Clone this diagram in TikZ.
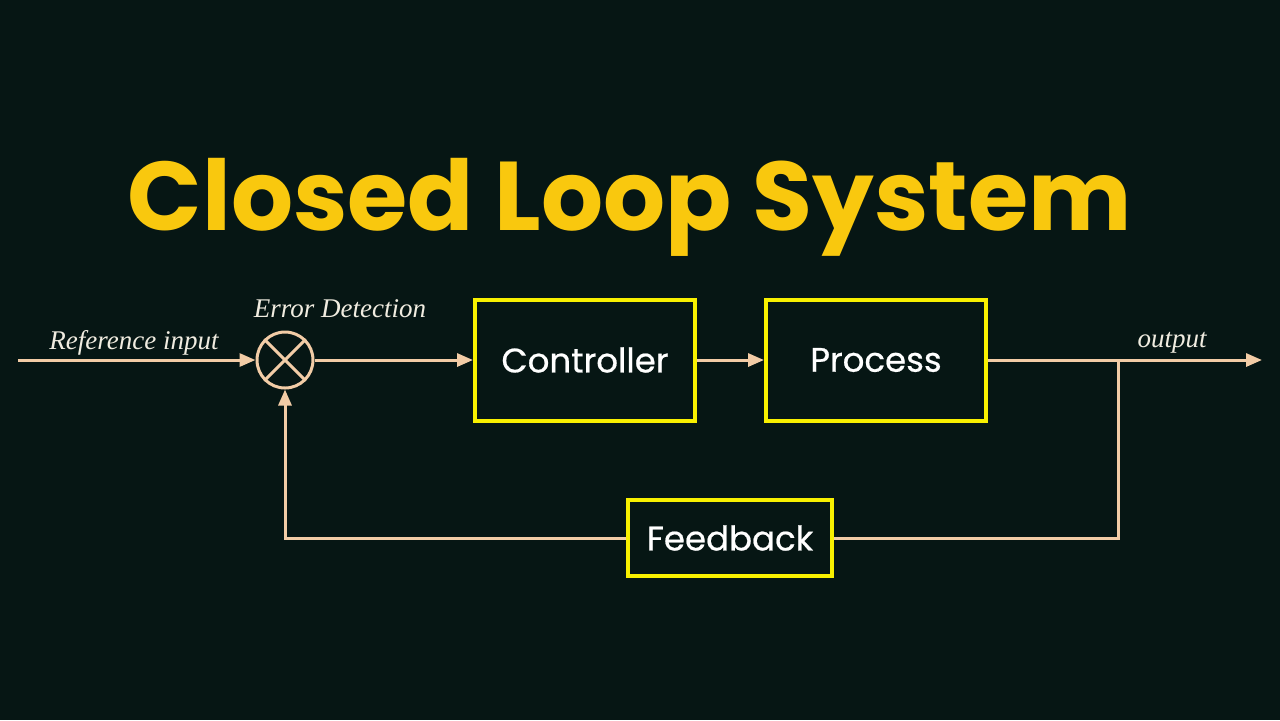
\documentclass[tikz,border=0pt]{standalone}
\usepackage{fontspec}
\setmainfont{Poppins}
\newfontfamily\handfont{Liberation Serif}
\newfontfamily\boxfont[FakeBold=0.6]{Poppins}
\usetikzlibrary{arrows.meta}
\definecolor{bgdark}{HTML}{061614}
\definecolor{titleyellow}{HTML}{F9C80E}
\definecolor{boxyellow}{HTML}{F8F000}
\definecolor{wire}{HTML}{F2CCA6}
\definecolor{labelwhite}{HTML}{F0ECE0}

\begin{document}
\begin{tikzpicture}[x=0.5pt, y=-0.5pt, every node/.style={font=\boxfont\fontsize{17}{20}\selectfont, text=white},
  block/.style={draw=boxyellow, line width=2pt, minimum width=110pt, minimum height=60.5pt},
  signal/.style={draw=wire, line width=1.5pt},
  tip/.style={-{Triangle[length=8pt,width=6.5pt]}},
  hand/.style={font=\handfont\itshape\fontsize{13.5}{16}\selectfont, text=labelwhite}]
  \fill[bgdark] (0,0) rectangle (1280,720);
  \useasboundingbox (0,0) rectangle (1280,720);
  \node[font=\bfseries\fontsize{48.8}{56}\selectfont, text=titleyellow, anchor=base] (title) at (630,230) {Closed Loop System};
  % summing point
  \node[circle, draw=wire, line width=1.5pt, minimum size=28pt, inner sep=0pt] (sum) at (285,360) {};
  \draw[signal] (sum.north east) -- (sum.south west);
  \draw[signal] (sum.north west) -- (sum.south east);
  % blocks
  \node[block] (ctrl) at (585,360) {Controller};
  \node[block] (proc) at (876,360) {Process};
  \node[block, minimum width=102pt, minimum height=38pt] (fb) at (730,538) {Feedback};
  \coordinate (refin) at (18,360);
  \coordinate (out) at (1262,360);
  \coordinate (branch) at (1118,360);
  % signals
  \draw[signal, tip] (refin) -- (sum.west);
  \draw[signal, tip] (sum.east) -- (ctrl.west);
  \draw[signal, tip] (ctrl.east) -- (proc.west);
  \draw[signal, tip] (proc.east) -- (out);
  \draw[signal] (branch) |- (fb.east);
  \draw[signal, tip] (fb.west) -| (sum.south);
  % labels
  \node[hand] (reflabel) at (134,343) {Reference input};
  \node[hand] (errlabel) at (340,309) {Error Detection};
  \node[hand] (outlabel) at (1172,343) {output};
\end{tikzpicture}
\end{document}
